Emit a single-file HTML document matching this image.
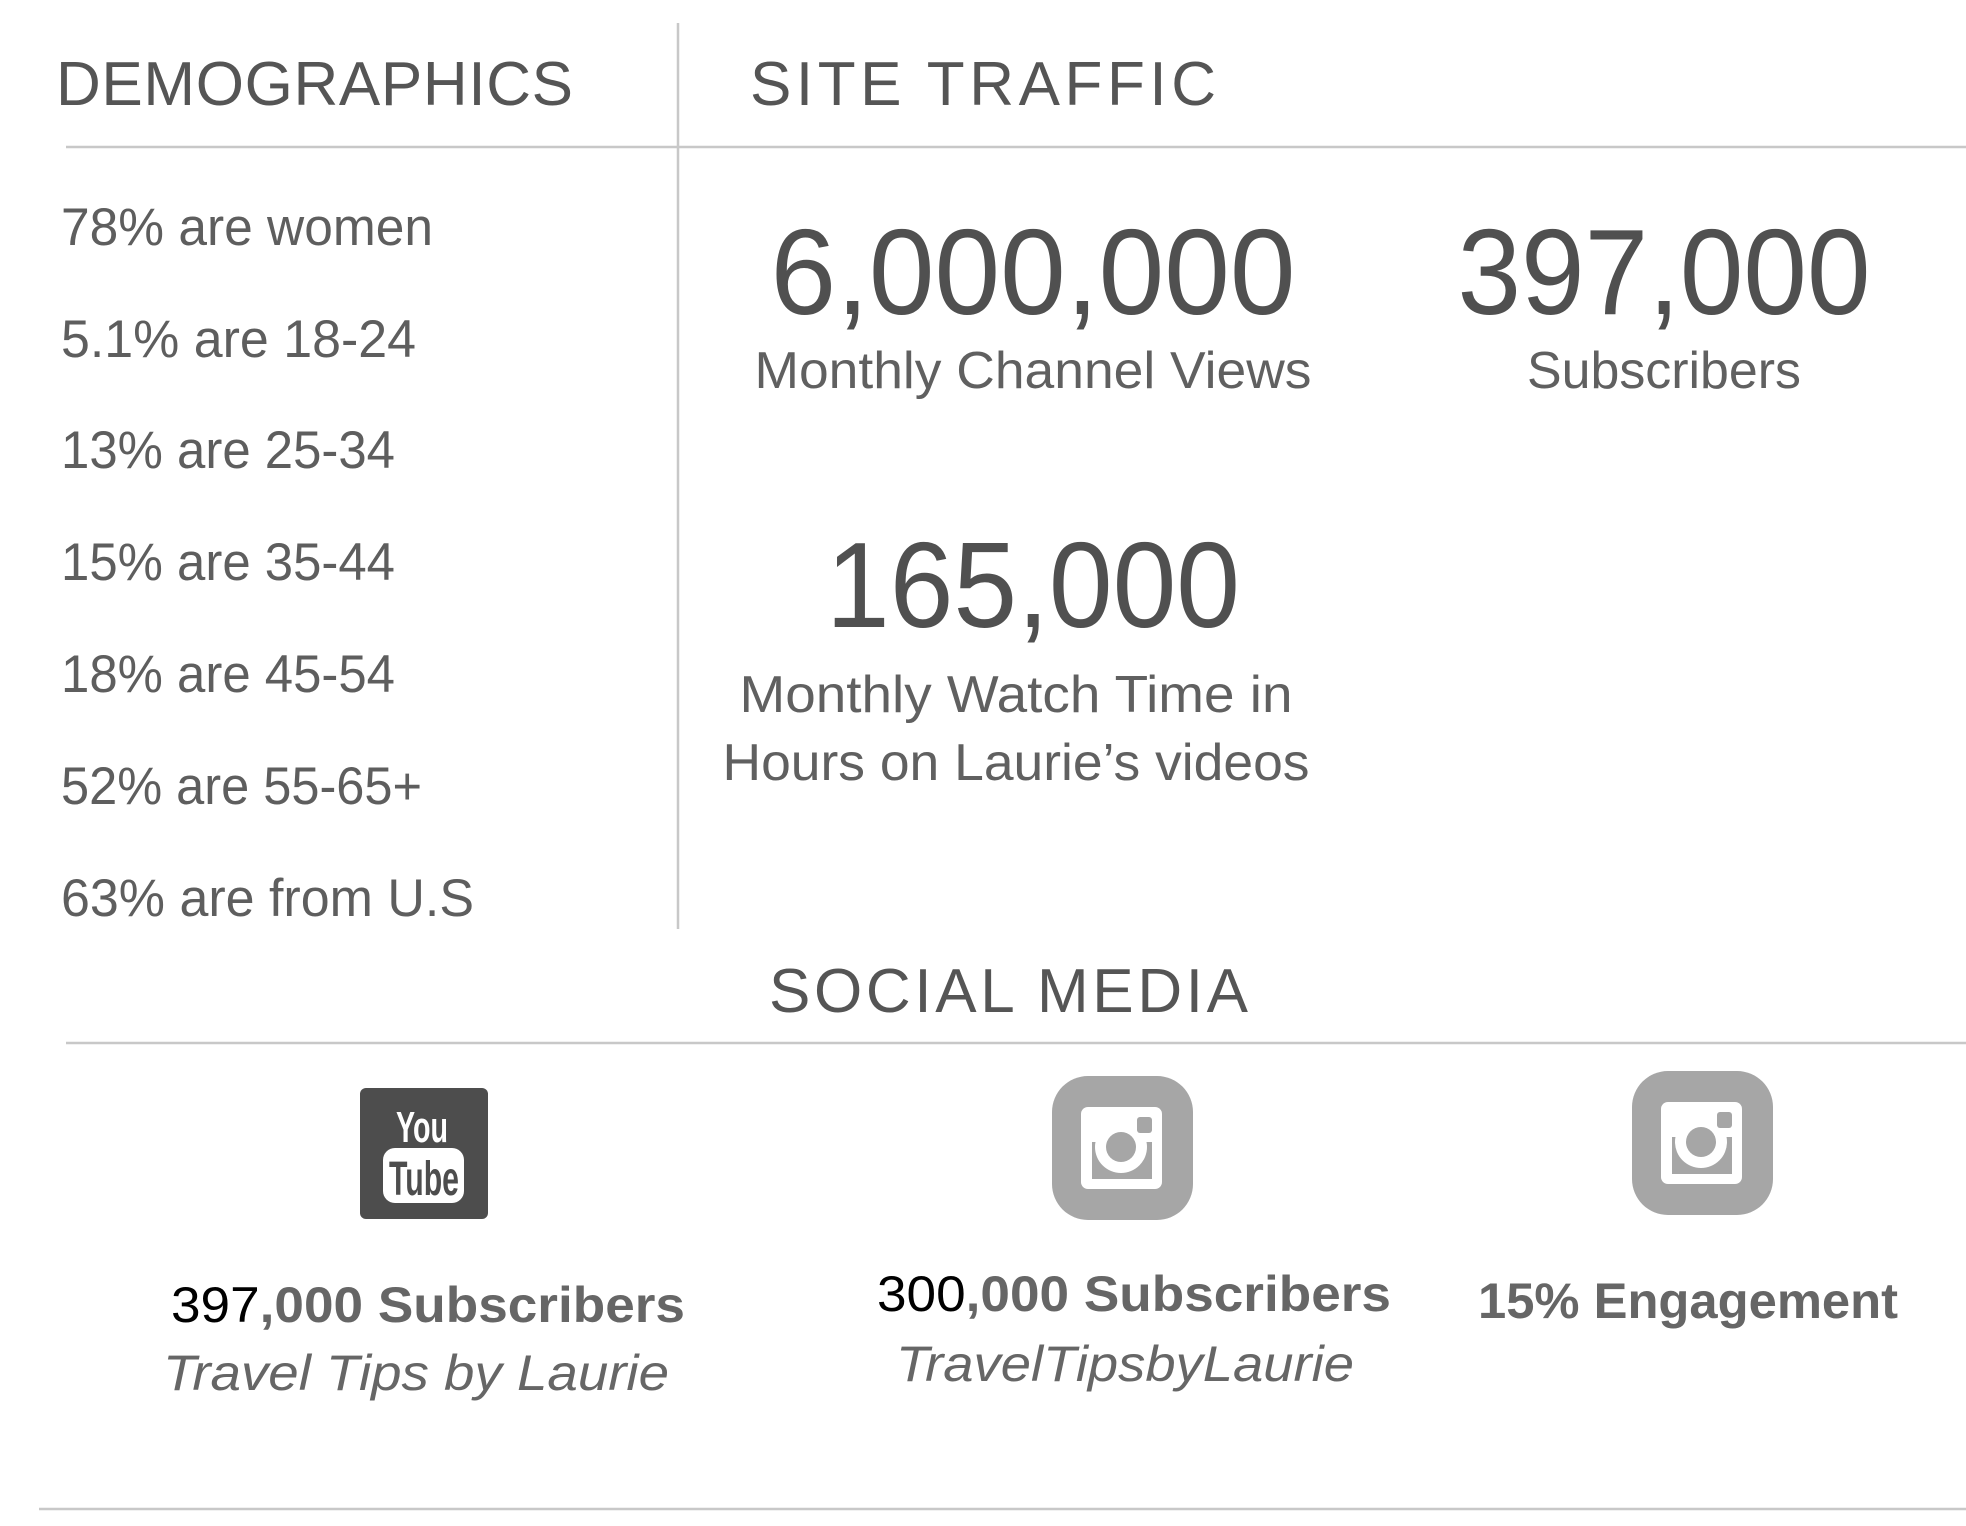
<!DOCTYPE html>
<html><head><meta charset="utf-8"><style>
html,body{margin:0;padding:0;background:#fff}
svg{display:block}
text{font-family:"Liberation Sans","DejaVu Sans",sans-serif}
</style></head><body>
<svg width="1966" height="1526" viewBox="0 0 1966 1526" xmlns="http://www.w3.org/2000/svg">
<rect width="1966" height="1526" fill="#fff"/>
<g stroke="#c8c8c8" stroke-width="2.5">
<line x1="678" y1="23" x2="678" y2="929"/>
<line x1="66" y1="147" x2="1966" y2="147"/>
<line x1="66" y1="1043" x2="1966" y2="1043"/>
<line x1="39" y1="1509" x2="1966" y2="1509"/>
</g>
<g fill="#555" font-size="62">
<text x="56" y="105" textLength="517" lengthAdjust="spacing">DEMOGRAPHICS</text>
<text x="750" y="105" textLength="466" lengthAdjust="spacing">SITE TRAFFIC</text>
<text x="769" y="1012" textLength="479" lengthAdjust="spacing">SOCIAL MEDIA</text>
</g>
<g fill="#5e5e5e" font-size="53">
<text x="61" y="245" textLength="372" lengthAdjust="spacingAndGlyphs">78% are women</text>
<text x="61" y="357" textLength="355" lengthAdjust="spacingAndGlyphs">5.1% are 18-24</text>
<text x="61" y="468" textLength="334" lengthAdjust="spacingAndGlyphs">13% are 25-34</text>
<text x="61" y="580" textLength="334" lengthAdjust="spacingAndGlyphs">15% are 35-44</text>
<text x="61" y="692" textLength="334" lengthAdjust="spacingAndGlyphs">18% are 45-54</text>
<text x="61" y="804" textLength="361" lengthAdjust="spacingAndGlyphs">52% are 55-65+</text>
<text x="61" y="916" textLength="413" lengthAdjust="spacingAndGlyphs">63% are from U.S</text>
</g>
<g fill="#505050" font-size="122" text-anchor="middle">
<text x="1033" y="314" textLength="525" lengthAdjust="spacingAndGlyphs">6,000,000</text>
<text x="1664" y="314" textLength="413" lengthAdjust="spacingAndGlyphs">397,000</text>
<text x="1033" y="627" textLength="414" lengthAdjust="spacingAndGlyphs">165,000</text>
</g>
<g fill="#606060" font-size="52" text-anchor="middle">
<text x="1033" y="388" textLength="557" lengthAdjust="spacingAndGlyphs">Monthly Channel Views</text>
<text x="1664" y="388" textLength="274" lengthAdjust="spacingAndGlyphs">Subscribers</text>
<text x="1016" y="712" textLength="553" lengthAdjust="spacingAndGlyphs">Monthly Watch Time in</text>
<text x="1016" y="780" textLength="587" lengthAdjust="spacingAndGlyphs">Hours on Laurie’s videos</text>
</g>
<!-- YouTube -->
<rect x="360" y="1088" width="128" height="131" rx="6" fill="#4d4d4d"/>
<text x="422" y="1142" fill="#fff" font-size="44" font-weight="bold" text-anchor="middle" textLength="52" lengthAdjust="spacingAndGlyphs">You</text>
<rect x="383" y="1148" width="81" height="55" rx="12" fill="#fff"/>
<text x="424" y="1195" fill="#4d4d4d" font-size="48" font-weight="bold" text-anchor="middle" textLength="70" lengthAdjust="spacingAndGlyphs">Tube</text>
<!-- Instagram -->
<g id="ig">
<rect x="1052" y="1076" width="141" height="144" rx="36" fill="#a6a6a6"/>
<rect x="1081" y="1107" width="81" height="82" rx="7" fill="#fff"/>
<rect x="1092" y="1142" width="60" height="37" fill="#a6a6a6"/>
<circle cx="1121" cy="1147" r="26" fill="#fff"/>
<circle cx="1121" cy="1147" r="15" fill="#a6a6a6"/>
<rect x="1137" y="1117" width="15" height="16" rx="3" fill="#a6a6a6"/>
</g>
<use href="#ig" transform="translate(580,-5)"/>
<g font-size="50" font-weight="bold" fill="#666" text-anchor="middle">
<text x="428" y="1322" textLength="514" lengthAdjust="spacingAndGlyphs"><tspan fill="#000" font-weight="normal">397</tspan>,000 Subscribers</text>
<text x="1134" y="1311" textLength="514" lengthAdjust="spacingAndGlyphs"><tspan fill="#000" font-weight="normal">300</tspan>,000 Subscribers</text>
<text x="1688" y="1318" textLength="420" lengthAdjust="spacingAndGlyphs">15% Engagement</text>
</g>
<g font-size="50" font-style="italic" fill="#666" text-anchor="middle">
<text x="416" y="1390" textLength="506" lengthAdjust="spacingAndGlyphs">Travel Tips by Laurie</text>
<text x="1125" y="1381" textLength="458" lengthAdjust="spacingAndGlyphs">TravelTipsbyLaurie</text>
</g>
</svg>
</body></html>
